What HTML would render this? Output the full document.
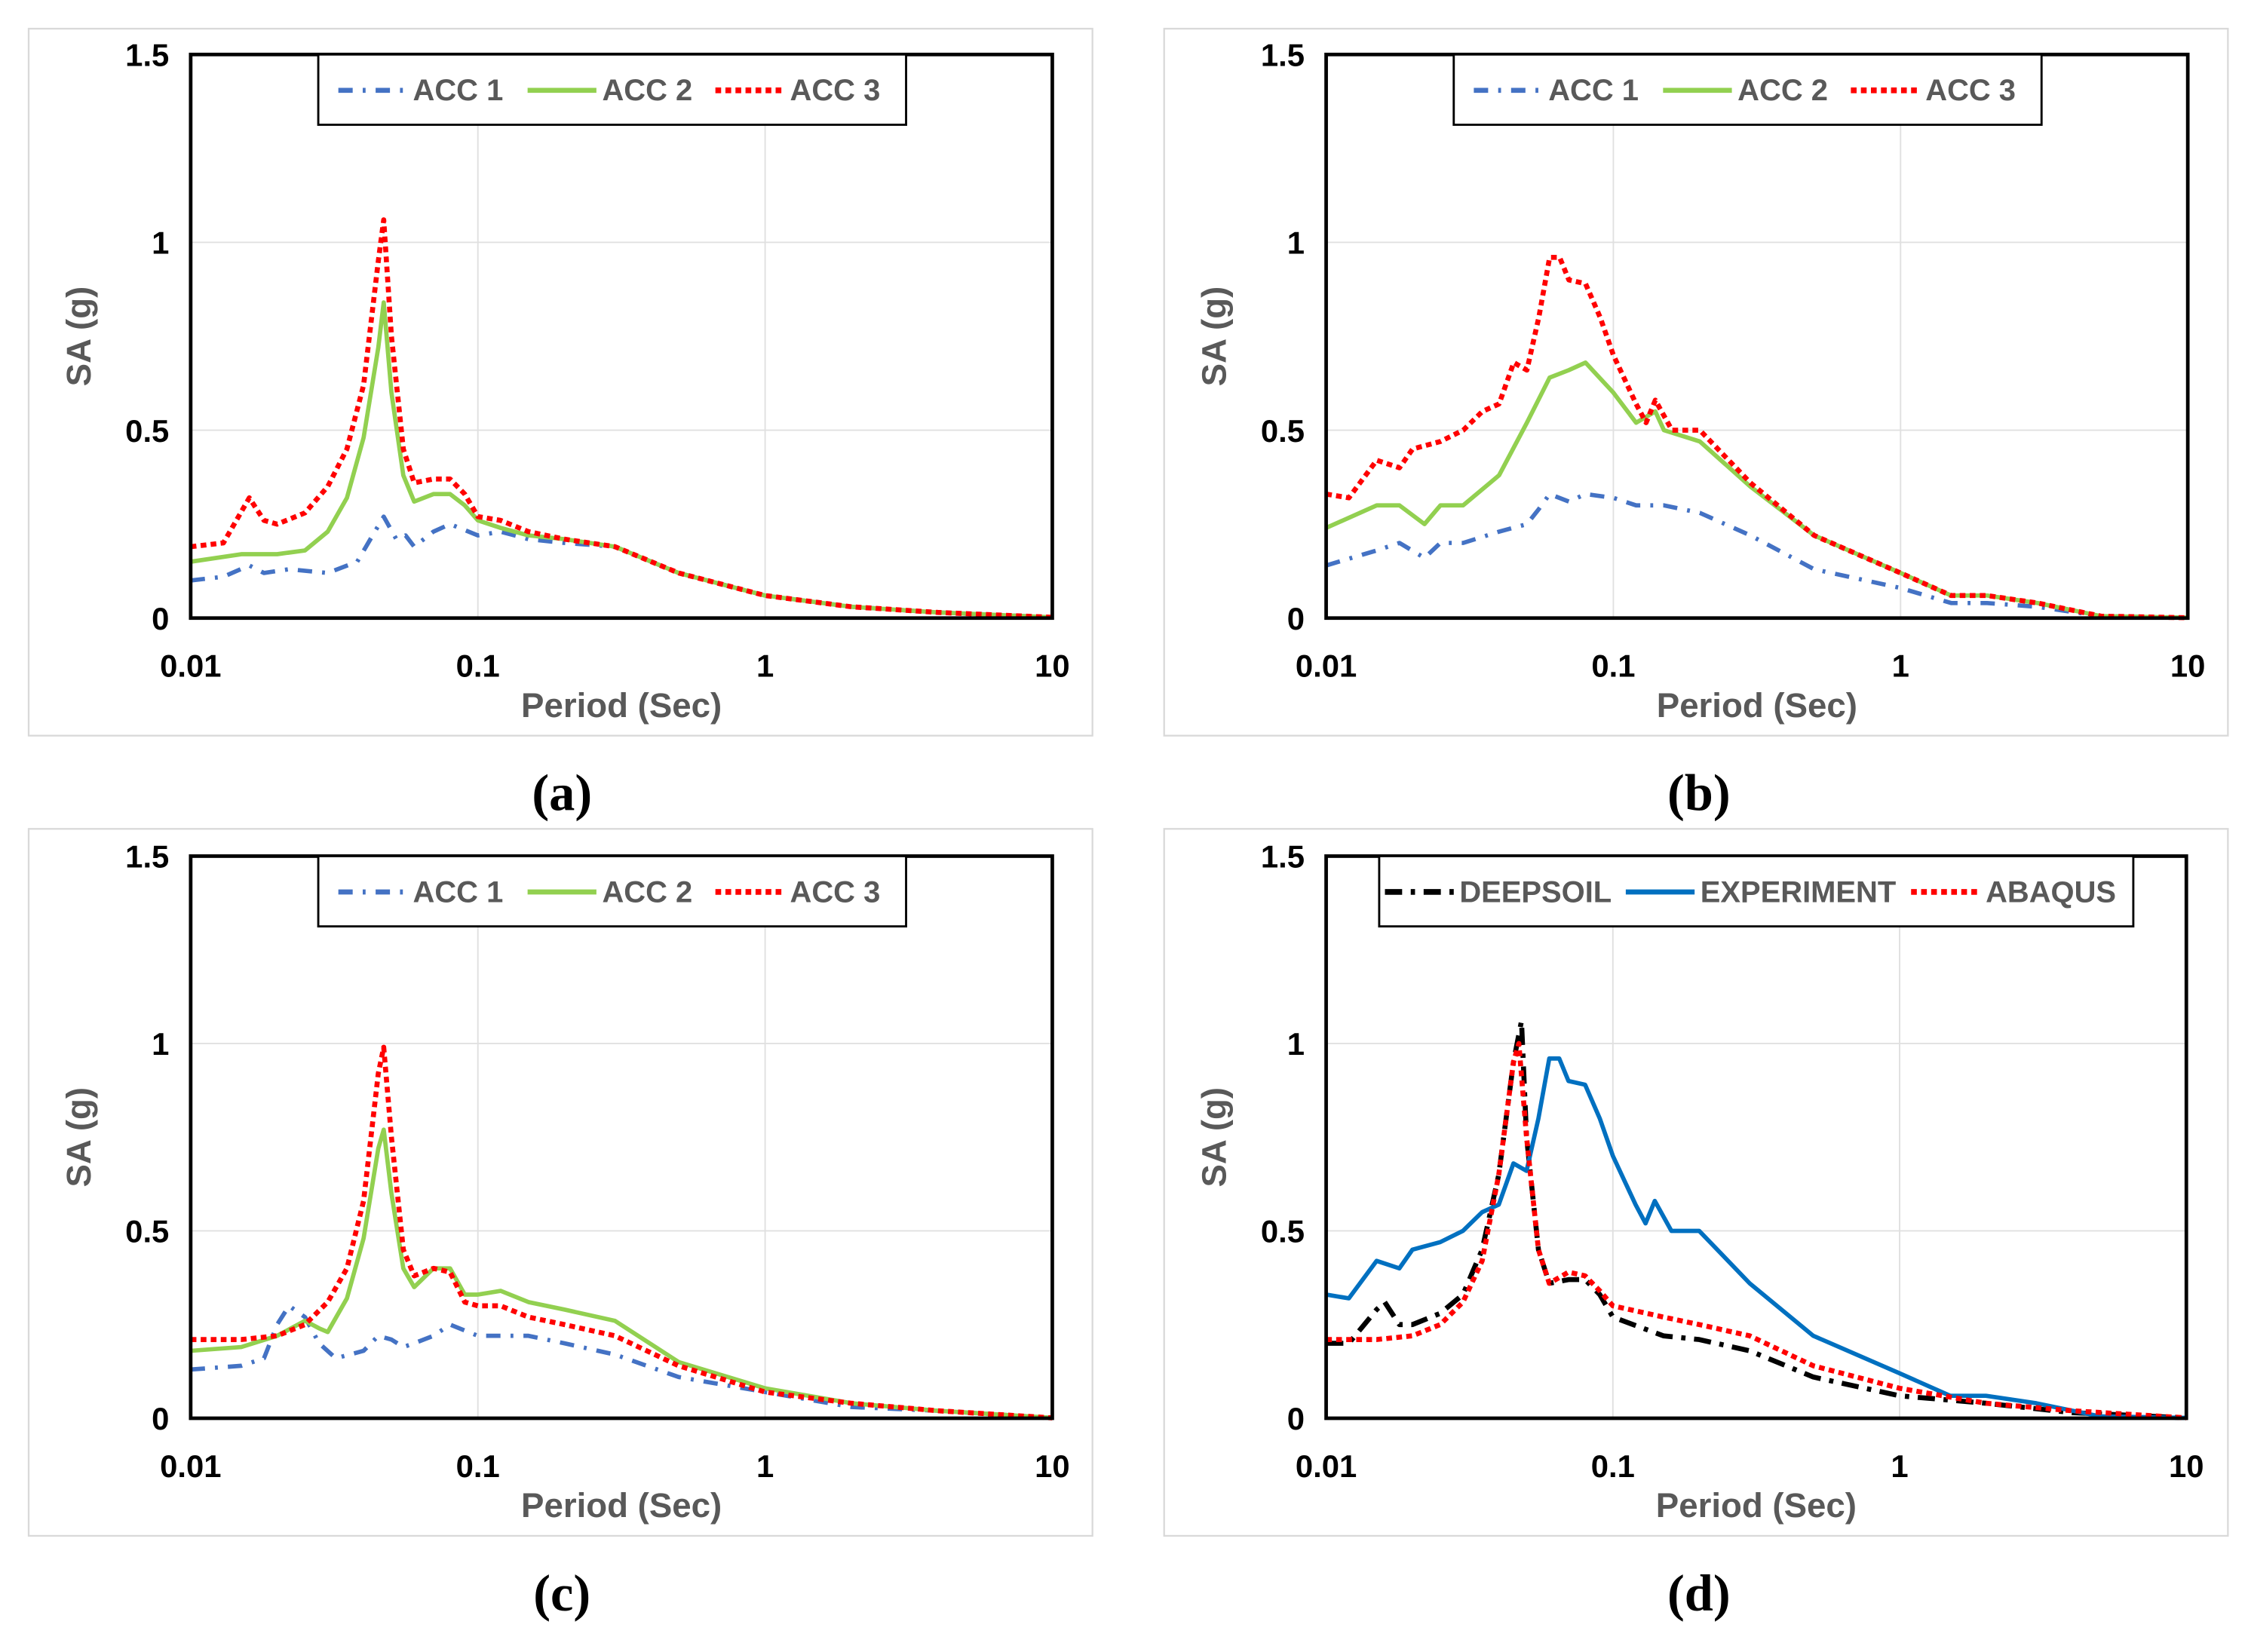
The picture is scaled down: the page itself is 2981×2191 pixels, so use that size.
<!DOCTYPE html>
<html><head><meta charset="utf-8"><style>
html,body{margin:0;padding:0;background:#fff;}
svg{display:block;}
</style></head><body>
<svg id="fig" width="2981" height="2191" viewBox="0 0 1568 1152" preserveAspectRatio="none" xmlns="http://www.w3.org/2000/svg"></svg>
<script>
// ---- data (period in sec, SA in g) ----
const xTicks = [0.01, 0.1, 1, 10];
const xTickLabels = ["0.01", "0.1", "1", "10"];
const yTicks = [0, 0.5, 1, 1.5];
const yTickLabels = ["0", "0.5", "1", "1.5"];

const aAcc1T = [0.01,0.013,0.016,0.018,0.022,0.03,0.038,0.043,0.047,0.052,0.056,0.06,0.07,0.08,0.1,0.12,0.15,0.2,0.3,0.5,1,2,4,10];
const aAcc1V = [0.10,0.11,0.14,0.12,0.13,0.12,0.15,0.22,0.27,0.21,0.22,0.19,0.23,0.25,0.22,0.23,0.21,0.20,0.19,0.12,0.06,0.03,0.015,0.002];
const aAcc2T = [0.01,0.015,0.02,0.025,0.03,0.035,0.04,0.045,0.047,0.05,0.055,0.06,0.07,0.08,0.09,0.1,0.12,0.15,0.2,0.3,0.5,1,2,4,10];
const aAcc2V = [0.15,0.17,0.17,0.18,0.23,0.32,0.48,0.72,0.84,0.6,0.38,0.31,0.33,0.33,0.30,0.26,0.24,0.22,0.21,0.19,0.12,0.06,0.03,0.015,0.002];
const aAcc3T = [0.01,0.013,0.016,0.018,0.02,0.025,0.03,0.035,0.04,0.045,0.047,0.05,0.055,0.06,0.07,0.08,0.09,0.1,0.12,0.15,0.2,0.3,0.5,1,2,4,10];
const aAcc3V = [0.19,0.20,0.32,0.26,0.25,0.28,0.35,0.45,0.62,0.95,1.06,0.75,0.45,0.36,0.37,0.37,0.33,0.27,0.26,0.23,0.21,0.19,0.12,0.06,0.03,0.015,0.002];

const bAcc1T = [0.01,0.015,0.018,0.022,0.025,0.03,0.04,0.05,0.055,0.06,0.07,0.08,0.1,0.12,0.15,0.2,0.3,0.5,1,1.5,2,3,5,10];
const bAcc1V = [0.14,0.18,0.20,0.16,0.20,0.20,0.23,0.25,0.29,0.33,0.31,0.33,0.32,0.30,0.30,0.28,0.22,0.13,0.08,0.04,0.04,0.03,0.005,0.001];
const bAcc2T = [0.01,0.015,0.018,0.022,0.025,0.03,0.04,0.05,0.06,0.07,0.08,0.1,0.12,0.14,0.15,0.2,0.3,0.5,1,1.5,2,3,5,10];
const bAcc2V = [0.24,0.30,0.30,0.25,0.30,0.30,0.38,0.52,0.64,0.66,0.68,0.60,0.52,0.55,0.50,0.47,0.35,0.22,0.12,0.06,0.06,0.04,0.005,0.001];
const bAcc3T = [0.01,0.012,0.015,0.018,0.02,0.025,0.03,0.035,0.04,0.045,0.05,0.055,0.06,0.065,0.07,0.08,0.09,0.1,0.12,0.13,0.14,0.16,0.2,0.3,0.5,1,1.5,2,3,5,10];
const bAcc3V = [0.33,0.32,0.42,0.40,0.45,0.47,0.50,0.55,0.57,0.68,0.66,0.80,0.96,0.96,0.90,0.89,0.80,0.70,0.57,0.52,0.58,0.50,0.50,0.36,0.22,0.12,0.06,0.06,0.04,0.005,0.001];

const cAcc1T = [0.01,0.015,0.018,0.02,0.022,0.025,0.028,0.032,0.04,0.045,0.05,0.055,0.06,0.07,0.08,0.1,0.15,0.2,0.3,0.5,1,2,4,10];
const cAcc1V = [0.13,0.14,0.16,0.25,0.30,0.27,0.20,0.16,0.18,0.22,0.21,0.19,0.20,0.22,0.25,0.22,0.22,0.20,0.17,0.11,0.07,0.03,0.02,0.001];
const cAcc2T = [0.01,0.015,0.02,0.025,0.028,0.03,0.035,0.04,0.045,0.047,0.05,0.055,0.06,0.07,0.08,0.09,0.1,0.12,0.15,0.2,0.3,0.5,1,2,4,10];
const cAcc2V = [0.18,0.19,0.22,0.26,0.24,0.23,0.32,0.48,0.72,0.77,0.6,0.40,0.35,0.40,0.40,0.33,0.33,0.34,0.31,0.29,0.26,0.15,0.08,0.04,0.02,0.001];
const cAcc3T = [0.01,0.015,0.02,0.025,0.03,0.035,0.04,0.045,0.047,0.05,0.055,0.06,0.07,0.08,0.09,0.1,0.12,0.15,0.2,0.3,0.5,1,2,4,10];
const cAcc3V = [0.21,0.21,0.22,0.25,0.31,0.40,0.58,0.92,0.99,0.75,0.45,0.38,0.40,0.39,0.31,0.30,0.30,0.27,0.25,0.22,0.14,0.07,0.04,0.02,0.001];

const dDeepT = [0.01,0.012,0.015,0.016,0.018,0.02,0.025,0.03,0.035,0.04,0.045,0.048,0.05,0.055,0.06,0.07,0.08,0.09,0.1,0.15,0.2,0.3,0.5,1,2,4,10];
const dDeepV = [0.20,0.20,0.29,0.31,0.25,0.25,0.28,0.33,0.45,0.65,0.95,1.06,0.75,0.45,0.36,0.37,0.37,0.33,0.27,0.22,0.21,0.18,0.11,0.06,0.04,0.015,0.001];
const dExpT = bAcc3T;
const dExpV = bAcc3V;
const dAbaT = [0.01,0.015,0.02,0.025,0.03,0.035,0.04,0.045,0.047,0.05,0.055,0.06,0.07,0.08,0.09,0.1,0.15,0.2,0.3,0.5,1,2,4,10];
const dAbaV = [0.21,0.21,0.22,0.25,0.31,0.42,0.65,0.95,1.0,0.75,0.45,0.36,0.39,0.38,0.34,0.30,0.27,0.25,0.22,0.14,0.08,0.04,0.02,0.001];

const NS = "http://www.w3.org/2000/svg";
const svg = document.getElementById("fig");
function el(tag, attrs, parent, text){
  const e = document.createElementNS(NS, tag);
  for (const k in attrs) e.setAttribute(k, attrs[k]);
  if (text !== undefined) e.textContent = text;
  (parent||svg).appendChild(e);
  return e;
}
const STY = {
  acc1: {stroke:"#4472C4", dash:"10 7 2 7", w:3},
  acc2: {stroke:"#92D050", dash:"", w:3},
  acc3: {stroke:"#FF0000", dash:"4 3", w:3.5},
  deep: {stroke:"#000000", dash:"12 6 3 6", w:3.5},
  exp:  {stroke:"#0070C0", dash:"", w:3},
  aba:  {stroke:"#FF0000", dash:"4 3", w:3.5}
};
const SANS = "Liberation Sans, Arial, sans-serif";

function panel(id, bx, by, px0, px1, py0, py1, label, lx, legend, series){
  const g = el("g", {}, svg);
  
  
  const fr = el("rect", {x:bx, y:by, width:742, height:493, fill:"#fff", stroke:"#d9d9d9", "stroke-width":1.2}, g);
  
  
  const X = v => px0 + (Math.log10(v) + 2) / 3 * (px1 - px0);
  const Y = v => py1 - v / 1.5 * (py1 - py0);
  yTicks.forEach((t, i) => {
    const ln = el("line", {x1:px0, x2:px1, y1:Y(t), y2:Y(t), stroke:"#e0e0e0", "stroke-width":1}, g);
    
    
    const tx = el("text", {x:px0 - 15, y:Y(t) + 8, "text-anchor":"end", "font-family":SANS, "font-weight":"bold", "font-size":22, fill:"#000"}, g, yTickLabels[i]);
    
    
  });
  xTicks.forEach((t, i) => {
    const ln = el("line", {x1:X(t), x2:X(t), y1:py0, y2:py1, stroke:"#e0e0e0", "stroke-width":1}, g);
    
    
    const tx = el("text", {x:X(t), y:py1 + 41, "text-anchor":"middle", "font-family":SANS, "font-weight":"bold", "font-size":22, fill:"#000"}, g, xTickLabels[i]);
    
    
  });
  series.forEach(s => {
    const st = STY[s.style];
    const d = s.t.map((t, i) => (i ? "L" : "M") + X(t).toFixed(2) + " " + Y(s.v[i]).toFixed(2)).join(" ");
    const p = el("path", {d:d, fill:"none", stroke:st.stroke, "stroke-width":st.w, "stroke-dasharray":st.dash, "stroke-linejoin":"round"}, g);
    
    
  });
  const pb = el("rect", {x:px0, y:py0, width:px1 - px0, height:py1 - py0, fill:"none", stroke:"#000", "stroke-width":2.5}, g);
  
  
  const xt = el("text", {x:(px0 + px1) / 2, y:py1 + 69, "text-anchor":"middle", "font-family":SANS, "font-weight":"bold", "font-size":24, fill:"#595959"}, g, "Period (Sec)");
  
  
  const yc = (py0 + py1) / 2;
  const yt = el("text", {x:px0 - 70, y:yc, transform:"rotate(-90 " + (px0 - 70) + " " + yc + ")", "text-anchor":"middle", "font-family":SANS, "font-weight":"bold", "font-size":24, fill:"#595959"}, g, "SA (g)");
  
  
  const lg = el("g", {}, g);
  
  
  el("rect", {x:legend.x, y:py0, width:legend.w, height:49, fill:"#fff", stroke:"#000", "stroke-width":1.5}, lg);
  legend.items.forEach(it => {
    const st = STY[it.style];
    const ly = py0 + 25;
    const ln = el("line", {x1:it.x, x2:it.x + 48, y1:ly, y2:ly, stroke:st.stroke, "stroke-width":st.w + 0.5, "stroke-dasharray":st.dash}, lg);
    
    
    const tx = el("text", {x:it.x + 52, y:ly + 7, "font-family":SANS, "font-weight":"bold", "font-size":21, fill:"#595959"}, lg, it.name);
    
    
  });
  const pl = el("text", {x:lx, y:by + 545, "text-anchor":"middle", "font-family":"Liberation Serif, serif", "font-weight":"bold", "font-size":36, fill:"#000"}, svg, label);
  
  
}

const accLegend = x => ({x:x, w:410, items:[{name:"ACC 1", style:"acc1", x:x+14},{name:"ACC 2", style:"acc2", x:x+146},{name:"ACC 3", style:"acc3", x:x+277}]});

panel("a", 20, 20, 133, 734, 38, 431, "(a)", 392, accLegend(222), [
  {name:"ACC 1", style:"acc1", t:aAcc1T, v:aAcc1V},
  {name:"ACC 2", style:"acc2", t:aAcc2T, v:aAcc2V},
  {name:"ACC 3", style:"acc3", t:aAcc3T, v:aAcc3V}]);
panel("b", 812, 20, 925, 1526, 38, 431, "(b)", 1185, accLegend(1014), [
  {name:"ACC 1", style:"acc1", t:bAcc1T, v:bAcc1V},
  {name:"ACC 2", style:"acc2", t:bAcc2T, v:bAcc2V},
  {name:"ACC 3", style:"acc3", t:bAcc3T, v:bAcc3V}]);
panel("c", 20, 578, 133, 734, 597, 989, "(c)", 392, accLegend(222), [
  {name:"ACC 1", style:"acc1", t:cAcc1T, v:cAcc1V},
  {name:"ACC 2", style:"acc2", t:cAcc2T, v:cAcc2V},
  {name:"ACC 3", style:"acc3", t:cAcc3T, v:cAcc3V}]);
panel("d", 812, 578, 925, 1525, 597, 989, "(d)", 1185,
  {x:962, w:526, items:[{name:"DEEPSOIL", style:"deep", x:966},{name:"EXPERIMENT", style:"exp", x:1134},{name:"ABAQUS", style:"aba", x:1333}]}, [
  {name:"DEEPSOIL", style:"deep", t:dDeepT, v:dDeepV},
  {name:"EXPERIMENT", style:"exp", t:dExpT, v:dExpV},
  {name:"ABAQUS", style:"aba", t:dAbaT, v:dAbaV}]);
</script>
</body></html>
